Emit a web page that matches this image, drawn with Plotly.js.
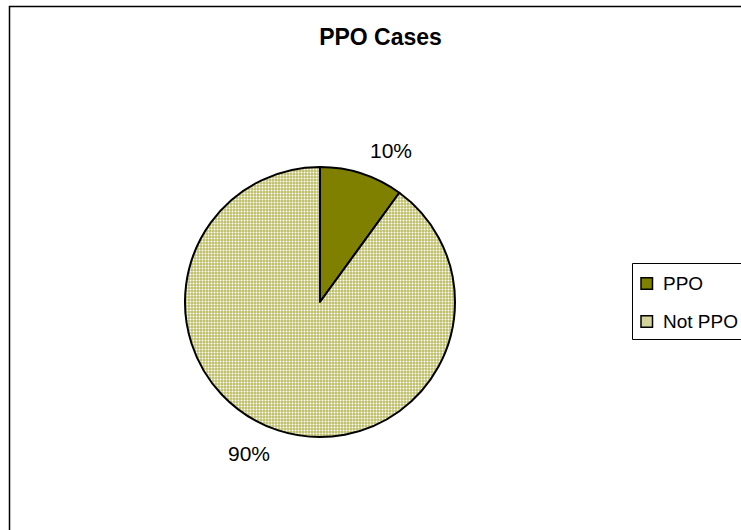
<!DOCTYPE html>
<html>
<head>
<meta charset="utf-8">
<script src="https://cdn.plot.ly/plotly-3.0.1.min.js"></script>
<style>html,body{margin:0;padding:0;background:#fff;}#chart{width:741px;height:530px;}</style>
</head>
<body>
<div id="chart"></div>
<script>
const categories = ["PPO", "Not PPO"];
const values = [10, 90];
const chartTitle = "PPO Cases";

const W = 741, H = 530;
const cx = 320, cy = 302, r = 135;
const FONT = "Liberation Sans, Arial, sans-serif";
const sliceColors = ["#808000", "#c6c77c"];
const swatchColors = ["#808000", "#d3d49a"];

const trace = {
  type: "pie",
  labels: categories,
  values: values,
  sort: false,
  direction: "clockwise",
  rotation: 0,
  textinfo: "none",
  hoverinfo: "label+percent",
  showlegend: false,
  marker: {
    colors: sliceColors,
    line: {color: "#000", width: 2},
    pattern: {
      shape: ["", "."],
      fgcolor: "#ffffff",
      bgcolor: ["#808000", "#bcbd66"],
      size: 3,
      solidity: 0.35
    }
  },
  domain: {
    x: [(cx - r) / W, (cx + r) / W],
    y: [(H - cy - r) / H, (H - cy + r) / H]
  }
};

// percent labels placed outside each slice, from the data
const total = values.reduce((a, b) => a + b, 0);
const annotations = [];
let cum = 0;
values.forEach((v, i) => {
  const mid = (cum + v / 2) / total * 2 * Math.PI + 7 * Math.PI / 180;
  cum += v;
  const d = 167;
  const px = cx + d * Math.sin(mid);
  const py = cy - d * Math.cos(mid);
  annotations.push({
    text: Math.round(v / total * 100) + "%",
    xref: "paper", yref: "paper",
    x: px / W, y: 1 - py / H,
    xanchor: "center", yanchor: "middle",
    showarrow: false,
    font: {family: FONT, size: 21, color: "#000"}
  });
});

// legend
const shapes = [
  {type: "rect", xref: "paper", yref: "paper",
   x0: 9.5 / W, x1: 1.02, y0: -0.02, y1: 1 - 6.5 / H,
   line: {color: "#000", width: 1.5}, fillcolor: "rgba(0,0,0,0)"},
  {type: "rect", xref: "paper", yref: "paper",
   x0: 632.5 / W, x1: 1.02, y0: 1 - 339.5 / H, y1: 1 - 263.5 / H,
   line: {color: "#000", width: 1}, fillcolor: "rgba(0,0,0,0)"}
];
const legendRowY = [283.5, 321.5];
categories.forEach((c, i) => {
  const yc = legendRowY[i];
  shapes.push({type: "rect", xref: "paper", yref: "paper",
    x0: 641 / W, x1: 652.5 / W, y0: 1 - (yc + 5.75) / H, y1: 1 - (yc - 5.75) / H,
    line: {color: "#000", width: 1.5}, fillcolor: swatchColors[i]});
  annotations.push({
    text: c, xref: "paper", yref: "paper",
    x: 661 / W, y: 1 - (yc - 0.5) / H,
    xanchor: "left", yanchor: "middle", showarrow: false,
    font: {family: FONT, size: 19, color: "#000"}
  });
});

const layout = {
  width: W, height: H,
  margin: {l: 0, r: 0, t: 0, b: 0},
  paper_bgcolor: "#fff",
  plot_bgcolor: "#fff",
  font: {family: FONT, color: "#000"},
  title: {
    text: "<b>" + chartTitle + "</b>",
    font: {family: FONT, size: 23, color: "#000"},
    x: 380.5 / W, xanchor: "center", xref: "paper",
    y: 1 - 37 / H, yanchor: "middle", yref: "paper"
  },
  showlegend: false,
  annotations: annotations,
  shapes: shapes
};

Plotly.newPlot("chart", [trace], layout, {displayModeBar: false, staticPlot: true});
</script>
</body>
</html>
